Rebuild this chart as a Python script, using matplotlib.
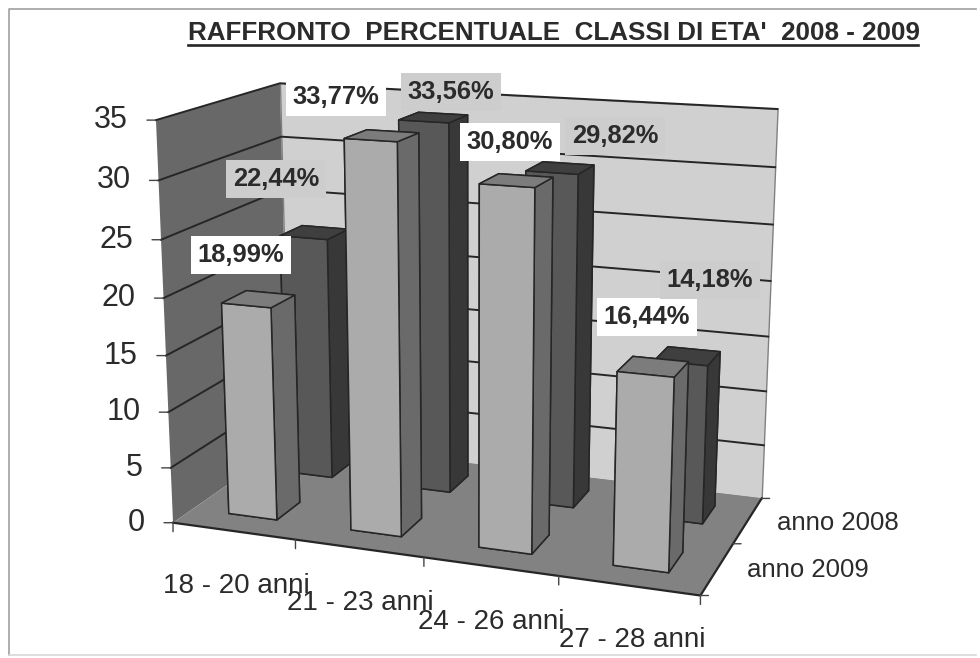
import matplotlib
matplotlib.use("Agg")
import matplotlib.pyplot as plt
from matplotlib.lines import Line2D
from mpl_toolkits.mplot3d import proj3d
from mpl_toolkits.mplot3d.art3d import Poly3DCollection

plt.rcParams["font.family"] = ["Liberation Sans", "DejaVu Sans"]

W, H = 980, 658
TITLE = "RAFFRONTO  PERCENTUALE  CLASSI DI ETA'  2008 - 2009"
CATEGORIES = ["18 - 20 anni", "21 - 23 anni", "24 - 26 anni", "27 - 28 anni"]
SERIES = ["anno 2009", "anno 2008"]
VALUES_2009 = [18.99, 33.77, 30.80, 16.44]
VALUES_2008 = [22.44, 33.56, 29.82, 14.18]
Z_TICKS = [0, 5, 10, 15, 20, 25, 30, 35]

# ---- Label placement (pixels in the picture) ----
LABELS_2009 = [(241, 255), (336, 97), (510, 142), (647, 317)]
LABELS_2008 = [(276, 179), (451, 92), (615, 136), (710, 280)]
CAT_LABELS = [(163, 593), (287, 610), (418, 629), (559, 647)]
SERIES_LABELS = [(747, 577), (777, 530)]

TEXT = "#2b2b2b"
LINE = "#262626"


def px(x, y):
    return x / W, 1 - y / H


fig = plt.figure(figsize=(W / 100, H / 100), dpi=100)

# camera fitted against the corners of the walls and bars
SCALE, CX, CY = 3848.26, 472.46, 340.22
ax = fig.add_axes([(CX - SCALE * 0.095) / W, (CY - SCALE * 0.095) / H,
                   SCALE * 0.185 / W, SCALE * 0.185 / H], projection="3d")
ax.view_init(elev=14.783, azim=-69.997, roll=0)
ax.set_proj_type("persp", focal_length=0.4988)
ax.set_box_aspect((1, 0.5026, 0.7524))
ax.set_axis_off()
ax.computed_zorder = False

# ---- Walls and floor ----
ax.add_collection3d(Poly3DCollection([[(0, 0, 0), (0, 2, 0), (0, 2, 35), (0, 0, 35)]],
                                     facecolor="#686868", edgecolor="none", zorder=1))
ax.add_collection3d(Poly3DCollection([[(0, 2, 0), (4, 2, 0), (4, 2, 35), (0, 2, 35)]],
                                     facecolor="#d0d0d0", edgecolor="#808080", linewidth=1, zorder=1))
ax.add_collection3d(Poly3DCollection([[(0, 0, 0), (4, 0, 0), (4, 2, 0), (0, 2, 0)]],
                                     facecolor="#828282", edgecolor="none", zorder=1))

for z in Z_TICKS[1:]:
    ax.plot([0, 0, 4], [0, 2, 2], [z, z, z], color=LINE, lw=1.4, zorder=2)
ax.plot([0, 4, 4], [0, 0, 2], [0, 0, 0], color=LINE, lw=1.6, zorder=2)

# ---- Bars, back row first ----
BAR_W, BAR_D, BAR_X0, BAR_Y0 = 0.3988, 0.40, 0.3006, 0.3144
rows = [(1, VALUES_2008, ["#3c3c3c", "#3f3f3f", "#585858", "#3c3c3c", "#585858", "#383838"]),
        (0, VALUES_2009, ["#727272", "#7c7c7c", "#ababab", "#727272", "#ababab", "#6a6a6a"])]
zo = 3
for row, values, colors in rows:
    for i, v in enumerate(values):
        ax.bar3d(i + BAR_X0, row + BAR_Y0, 0, BAR_W, BAR_D, v, color=colors,
                 edgecolor=LINE, linewidth=1.1, shade=False, zorder=zo)
        zo += 1

ax.set_xlim(0, 4, view_margin=0)
ax.set_ylim(0, 2, view_margin=0)
ax.set_zlim(0, 35, view_margin=0)

# ---- Ticks ----
M = ax.get_proj()


def tick(x, y, z, dx, dy, label=None):
    u, v, _ = proj3d.proj_transform(x, y, z, M)
    ax.annotate("", (u, v), xytext=(dx, dy), textcoords="offset pixels", annotation_clip=False,
                arrowprops=dict(arrowstyle="-", color="#444444", lw=1, shrinkA=0, shrinkB=0))
    if label is not None:
        ax.annotate(label, (u, v), xytext=(-28, 0), textcoords="offset pixels", annotation_clip=False,
                    ha="right", va="center", fontsize=22, color=TEXT)


for z in Z_TICKS:
    tick(0, 0, z, -9, 0, str(z))
for i in range(5):
    tick(i, 0, 0, 0, -9)
for j in range(3):
    tick(4, j, 0, 8, 0)

# ---- Text ----
for name, (x, y) in zip(CATEGORIES, CAT_LABELS):
    fig.text(*px(x, y), name, fontsize=20, color=TEXT, ha="left", va="baseline")
for name, (x, y) in zip(SERIES, SERIES_LABELS):
    fig.text(*px(x, y), name, fontsize=18.5, color=TEXT, ha="left", va="baseline")


def fmt(v):
    return f"{v:.2f}%".replace(".", ",")


for values, positions, bg in [(VALUES_2009, LABELS_2009, "white"), (VALUES_2008, LABELS_2008, "#cdcdcd")]:
    for v, (x, y) in zip(values, positions):
        fig.text(*px(x, y), fmt(v), fontsize=18.4, fontweight="bold", color=TEXT, ha="center", va="center",
                 bbox=dict(facecolor=bg, edgecolor="none", pad=5))

fig.text(*px(188, 40), TITLE, fontsize=18.7, fontweight="bold", color=TEXT, ha="left", va="baseline")
fig.add_artist(Line2D([188 / W, 918 / W], [1 - 44.5 / H] * 2, color=LINE, lw=1.9))

# scanned frame: no right side, bottom almost gone
fig.add_artist(Line2D([976 / W, 9 / W, 9 / W], [1 - 9 / H, 1 - 9 / H, 1 - 655 / H], color="#a0a0a0", lw=1.2))
fig.add_artist(Line2D([9 / W, 976 / W], [1 - 655 / H] * 2, color="#d8d8d8", lw=1.2))

fig.savefig("out.png", dpi=100)
